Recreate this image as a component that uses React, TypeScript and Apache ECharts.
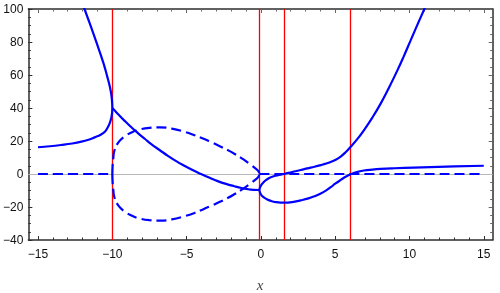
import React, { useEffect, useRef } from "react";
import * as echarts from "echarts";

// Axis ranges and ticks
const xRange = [-15.65, 15.6];
const yRange = [-40, 100];
const yStep = 20;
const xMajorTicks = [-15, -10, -5, 0, 5, 10, 15];
const xMinorTicks = [-14, -13, -12, -11, -9, -8, -7, -6, -4, -3, -2, -1, 1, 2, 3, 4, 6, 7, 8, 9, 11, 12, 13, 14];

// Vertical red reference lines
const verticalLines = [-10, -0.1, 1.56, 6];

// Solid curves (real parts)
const leftBranch = [
  [-11.96, 102], [-11.87, 100], [-11.67, 95], [-11.44, 89.3], [-11.19, 83], [-10.97, 77.2],
  [-10.77, 72], [-10.59, 67], [-10.46, 63], [-10.34, 59], [-10.22, 55], [-10.12, 50.9],
  [-10.065, 48], [-10.025, 44.8], [-10.006, 42], [-10.0, 40], [-10.003, 39], [-10.02, 36.8],
  [-10.07, 34], [-10.18, 30.7], [-10.32, 28], [-10.5, 25.6], [-10.78, 23.8], [-11.19, 22.2],
  [-11.6, 20.8], [-12.08, 19.6], [-12.7, 18.5], [-13.42, 17.6], [-14.2, 16.8], [-15, 16.2],
];
const middleReal = [
  [-10, 40], [-9.9, 39.1], [-9.55, 35.7], [-9.17, 32.2], [-8.72, 28.3], [-8.28, 24.8],
  [-7.8, 21.2], [-7.38, 18.1], [-6.8, 14.4], [-6.26, 11.0], [-5.7, 7.8], [-5.15, 5.0],
  [-4.6, 2.4], [-4.03, 0], [-3.45, -2.3], [-2.91, -4.3], [-2.35, -6.0], [-1.79, -7.4],
  [-1.3, -8.5], [-0.89, -9.2], [-0.5, -9.6], [-0.1, -9.7],
];
const rightUpper = [
  [-0.1, -9.7], [-0.08, -8.7], [-0.02, -7.4], [0.1, -5.8], [0.22, -4.6], [0.45, -3.0],
  [0.67, -2.0], [1.1, -0.85], [1.56, 0], [2.1, 1.2], [2.68, 2.4], [3.13, 3.4], [3.6, 4.4],
  [4.03, 5.4], [4.4, 6.35], [4.7, 7.3], [5.0, 8.5], [5.37, 10.6], [5.7, 13.2], [6.04, 16.5],
  [6.5, 21.3], [6.93, 26.5], [7.5, 34.2], [8.05, 42.5], [8.6, 52], [9.17, 62.5], [9.6, 71],
  [10.07, 80.8], [10.55, 90.8], [11.0, 100], [11.1, 102],
];
const rightLower = [
  [-0.1, -9.7], [-0.08, -10.7], [-0.02, -12.0], [0.11, -13.6], [0.4, -15.3], [0.67, -16.3],
  [1.0, -17.0], [1.56, -17.4], [2.2, -16.9], [2.68, -16.0], [3.2, -14.8], [3.6, -13.5],
  [4.03, -11.8], [4.4, -9.9], [4.7, -8.0], [5.0, -5.9], [5.37, -3.6], [5.7, -1.7],
  [6.04, -0.2], [6.4, 1.0], [6.93, 2.1], [7.5, 2.7], [8.05, 3.1], [9.0, 3.5], [10.3, 3.9],
  [12.5, 4.5], [15, 5.0],
];

// Dashed curves (imaginary parts)
const imagLeftZero = [[-15, 0], [-10, 0]];
const imagRightZero = [[-0.1, 0], [15, 0]];
const imagLoopUpper = [
  [-10, 0], [-9.98, 5], [-9.93, 10], [-9.85, 14.5], [-9.6, 19], [-9.17, 22.8], [-8.7, 25.2],
  [-8.28, 26.7], [-7.5, 28], [-6.8, 28.3], [-6, 27.5], [-5.15, 25.6], [-4.47, 23.5],
  [-3.9, 21.5], [-3.4, 19.5], [-2.8, 17], [-2.24, 14.5], [-1.79, 12.3], [-1.2, 9],
  [-0.67, 5.5], [-0.35, 3.3], [-0.17, 1.8], [-0.1, 0],
];
const imagLoopLower = [
  [-10, 0], [-9.98, -5], [-9.93, -10], [-9.85, -14.5], [-9.6, -19], [-9.17, -22.8], [-8.7, -25.2],
  [-8.28, -26.7], [-7.5, -28], [-6.8, -28.3], [-6, -27.5], [-5.15, -25.6], [-4.47, -23.6],
  [-3.9, -21.5], [-3.4, -19.5], [-2.8, -17], [-2.24, -14.6], [-1.79, -12.3], [-1.2, -9],
  [-0.67, -5.6], [-0.35, -3.3], [-0.17, -1.8], [-0.1, 0],
];

const BLUE = "#0000ff";
const FRAME = "#2e2e2e";
const LABEL_FONT = '"Liberation Sans", Arial, sans-serif';

export default function App() {
  const ref = useRef<HTMLDivElement>(null);
  useEffect(() => {
    if (!ref.current) return;
    const chart = echarts.init(ref.current, null, { renderer: "svg" });

    const solid = (data: number[][]) => ({
      type: "line",
      data,
      showSymbol: false,
      symbol: "none",
      smooth: 0.45,
      clip: true,
      lineStyle: { color: BLUE, width: 2.2 },
      z: 5,
    });
    const dashed = (data: number[][]) => ({
      type: "line",
      data,
      showSymbol: false,
      symbol: "none",
      smooth: 0.45,
      clip: true,
      lineStyle: { color: BLUE, width: 2.2, type: [10, 5] },
      z: 5,
    });

    const xBase = {
      type: "value",
      min: xRange[0],
      max: xRange[1],
      splitLine: { show: false },
    };
    const yBase = {
      type: "value",
      min: yRange[0],
      max: yRange[1],
      interval: yStep,
      splitLine: { show: false },
    };
    const fmt = (v: number) => (v < 0 ? "\u2212" + Math.abs(v) : String(v));

    chart.setOption({
      animation: false,
      grid: { left: 27.5, right: 7.3, top: 9, bottom: 53, containLabel: false },
      xAxis: [
        {
          ...xBase,
          position: "bottom",
          axisLine: { show: true, onZero: false, lineStyle: { color: FRAME, width: 1.5 } },
          axisTick: { show: true, inside: true, length: 4, customValues: xMajorTicks, lineStyle: { color: FRAME } },
          axisLabel: {
            show: true,
            customValues: xMajorTicks,
            margin: 8,
            color: "#111",
            fontSize: 12,
            fontFamily: LABEL_FONT,
            formatter: fmt,
          },
        },
        {
          ...xBase,
          position: "bottom",
          axisLine: { show: false, onZero: false },
          axisTick: { show: true, inside: true, length: 2.5, customValues: xMinorTicks, lineStyle: { color: FRAME } },
          axisLabel: { show: false },
        },
        {
          ...xBase,
          position: "top",
          axisLine: { show: true, onZero: false, lineStyle: { color: FRAME, width: 1.5 } },
          axisTick: { show: true, inside: true, length: 4, customValues: xMajorTicks, lineStyle: { color: "#666" } },
          axisLabel: { show: false },
        },
        {
          ...xBase,
          position: "top",
          axisLine: { show: false, onZero: false },
          axisTick: { show: true, inside: true, length: 2.5, customValues: xMinorTicks, lineStyle: { color: "#666" } },
          axisLabel: { show: false },
        },
      ],
      yAxis: [
        {
          ...yBase,
          position: "left",
          axisLine: { show: true, onZero: false, lineStyle: { color: FRAME, width: 1.5 } },
          axisTick: { show: true, inside: true, length: 4, lineStyle: { color: FRAME } },
          minorTick: { show: true, splitNumber: 4, length: 2.5, lineStyle: { color: FRAME } },
          axisLabel: {
            show: true,
            margin: 5,
            color: "#111",
            fontSize: 12,
            fontFamily: LABEL_FONT,
            formatter: fmt,
          },
        },
        {
          ...yBase,
          position: "right",
          axisLine: { show: true, onZero: false, lineStyle: { color: FRAME, width: 1.5 } },
          axisTick: { show: true, inside: true, length: 4, lineStyle: { color: "#666" } },
          minorTick: { show: true, splitNumber: 4, length: 2.5, lineStyle: { color: "#666" } },
          axisLabel: { show: false },
        },
      ],
      graphic: [
        {
          type: "text",
          x: 260,
          y: 285,
          style: {
            text: "x",
            font: 'italic 15px "Liberation Serif", "DejaVu Serif", serif',
            fill: "#444",
            textAlign: "center",
            textVerticalAlign: "middle",
          },
        },
      ],
      series: [
        {
          type: "line",
          data: [[0, 0]],
          showSymbol: false,
          symbol: "none",
          lineStyle: { opacity: 0 },
          z: 1,
          markLine: {
            silent: true,
            symbol: ["none", "none"],
            label: { show: false },
            animation: false,
            data: [
              { yAxis: 0, lineStyle: { color: "#b8b8b8", width: 1, type: "solid" } },
              ...verticalLines.map((v) => ({ xAxis: v, lineStyle: { color: "#ff0000", width: 1.3, type: "solid" } })),
            ],
          },
        },
        solid(leftBranch),
        solid(middleReal),
        solid(rightUpper),
        solid(rightLower),
        dashed(imagLeftZero),
        dashed(imagRightZero),
        dashed(imagLoopUpper),
        dashed(imagLoopLower),
      ],
    });
    return () => chart.dispose();
  }, []);
  return <div ref={ref} style={{ position: "fixed", left: 0, top: 0, width: 500, height: 293 }} />;
}
